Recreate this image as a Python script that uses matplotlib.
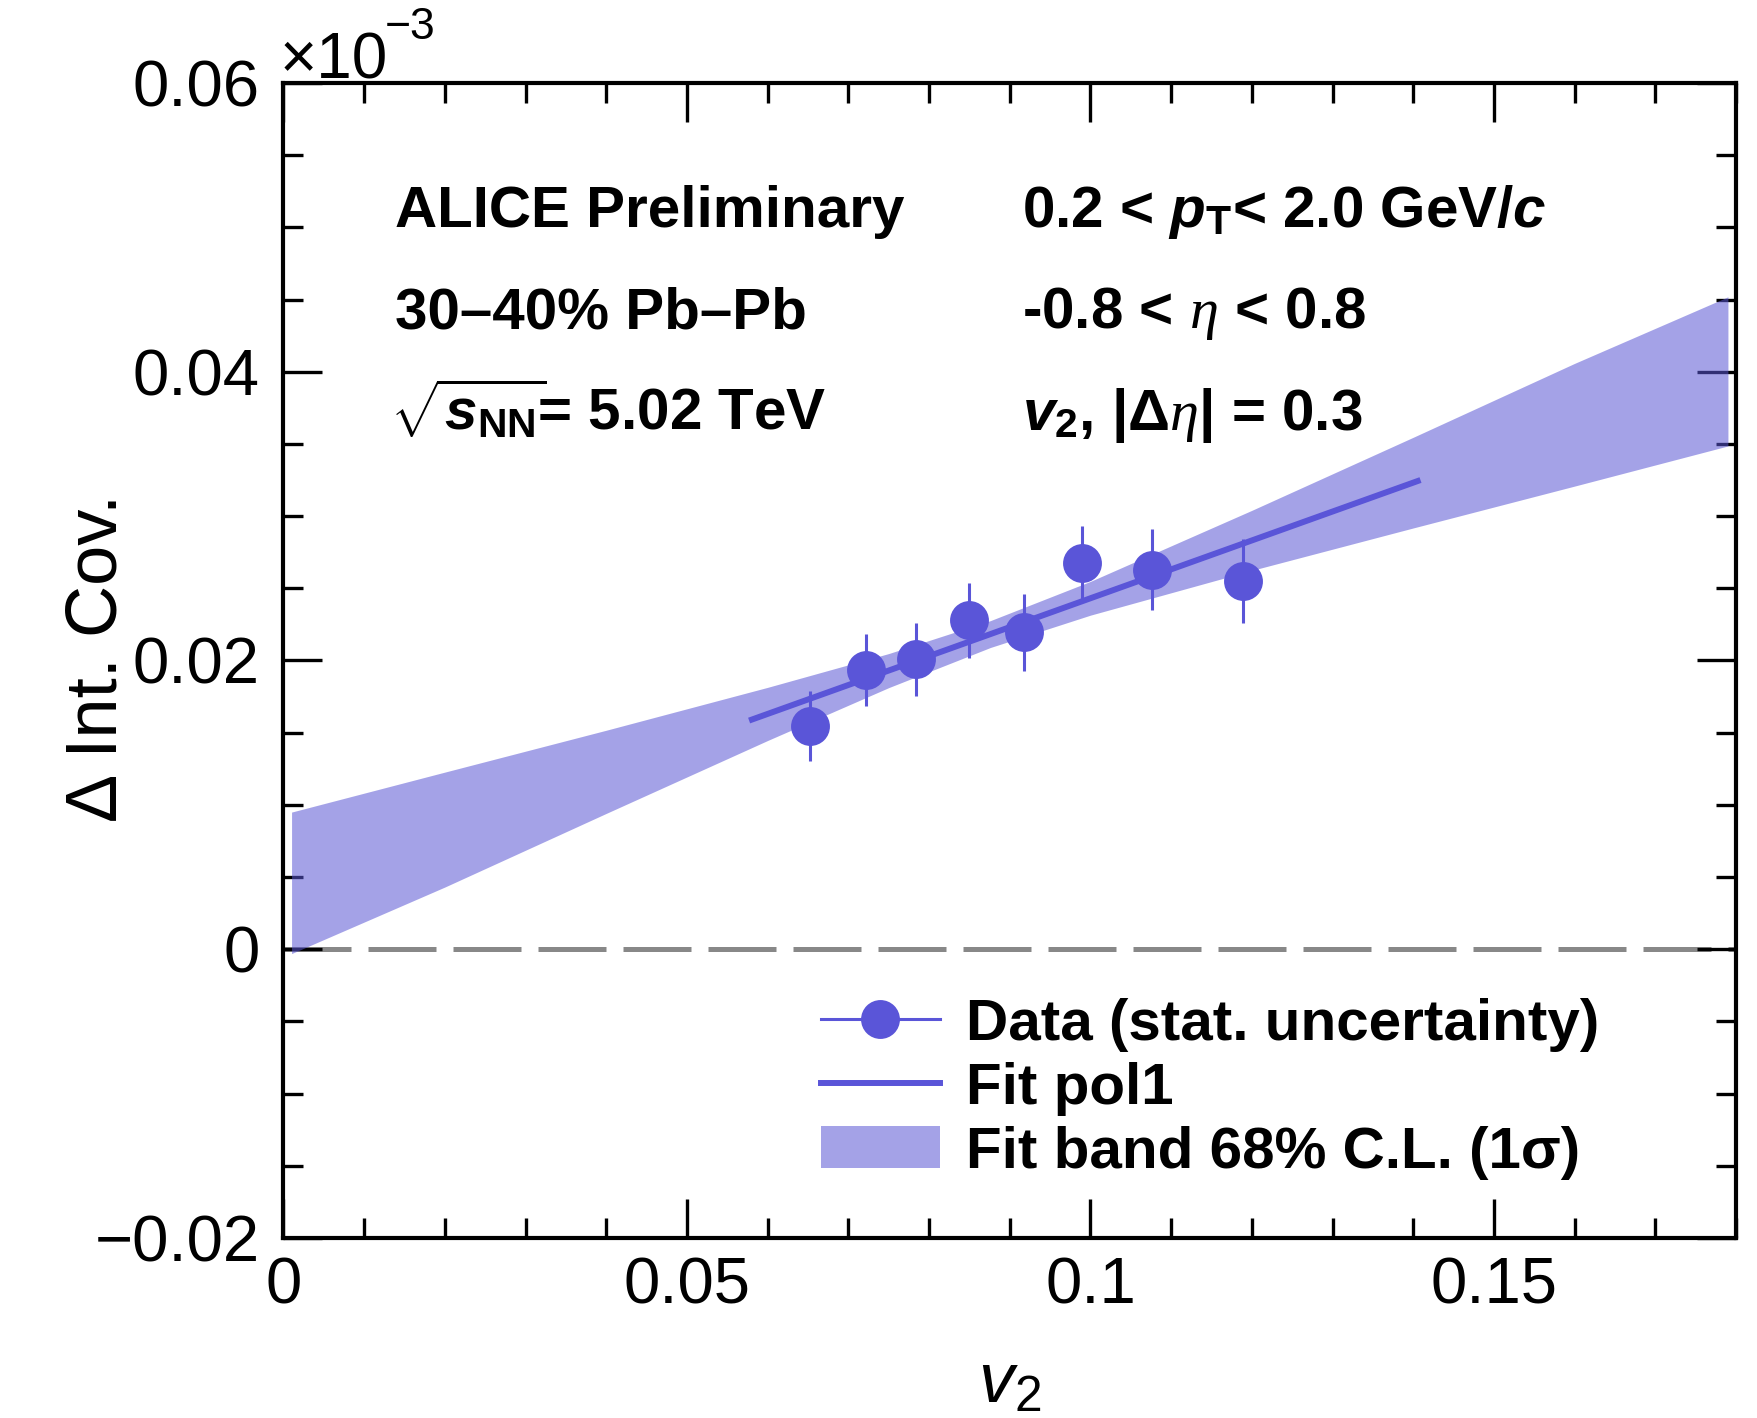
import matplotlib
matplotlib.use("Agg")
import matplotlib.pyplot as plt
from matplotlib.lines import Line2D
from matplotlib.patches import Patch
from matplotlib.ticker import FixedLocator, MultipleLocator

# ---------------- data ----------------
v2 = [0.0653, 0.0722, 0.0784, 0.0850, 0.0918, 0.0989, 0.1076, 0.1189]
cov = [0.01549, 0.01935, 0.02007, 0.02278, 0.02194, 0.02676, 0.02630, 0.02551]
cov_err = [0.00243, 0.00251, 0.00256, 0.00261, 0.00267, 0.00257, 0.00280, 0.00290]

fit_x = [0.0577, 0.1409]
fit_y = [0.01584, 0.03250]

band_x = [0.001, 0.02, 0.04, 0.06, 0.075, 0.0876, 0.10, 0.12, 0.14, 0.16, 0.179]
band_lo = [-0.0003, 0.00431, 0.00941, 0.01446, 0.01812, 0.02090, 0.02314, 0.02624, 0.02918, 0.03208, 0.03486]
band_hi = [0.0095, 0.01227, 0.01517, 0.01814, 0.02048, 0.02276, 0.02548, 0.03040, 0.03546, 0.04058, 0.04519]

xticks = [0, 0.05, 0.10, 0.15]
xticklabels = ["0", "0.05", "0.1", "0.15"]
yticks = [-0.02, 0, 0.02, 0.04, 0.06]
yticklabels = ["\u22120.02", "0", "0.02", "0.04", "0.06"]

label_data = "Data (stat. uncertainty)"
label_fit = "Fit pol1"
label_band = "Fit band 68% C.L. (1\u03c3)"

# ---------------- style ----------------
plt.rcParams['font.family'] = ['Liberation Sans', 'DejaVu Sans']
plt.rcParams['mathtext.fontset'] = 'custom'
plt.rcParams['mathtext.rm'] = 'Liberation Sans:bold'
plt.rcParams['mathtext.bf'] = 'Liberation Sans:bold:italic'
plt.rcParams['mathtext.it'] = 'Liberation Serif:italic'
plt.rcParams['mathtext.sf'] = 'Liberation Sans:italic'

col = '#5A55D8'
band_col = (90/255, 87/255, 213/255, 0.55)

fig = plt.figure(figsize=(17.58, 14.18), dpi=100)
ax = fig.add_axes([0.16126, 0.12694, 0.98749 - 0.16126, 0.94147 - 0.12694])

ax.fill_between(band_x, band_lo, band_hi, color=band_col, lw=0, zorder=2)
ax.axhline(0, color='#888888', lw=3.6, dashes=[13.6, 3.4], zorder=1)
ax.plot(fit_x, fit_y, color=col, lw=4.3, solid_capstyle='butt', zorder=3)
ax.errorbar(v2, cov, yerr=cov_err, fmt='o', color=col, ms=28, mew=0,
            elinewidth=2.2, capsize=0, zorder=4)

ax.set_xlim(0, 0.18)
ax.set_ylim(-0.02, 0.06)

ax.xaxis.set_major_locator(FixedLocator(xticks))
ax.set_xticklabels(xticklabels)
ax.xaxis.set_minor_locator(MultipleLocator(0.01))
ax.yaxis.set_major_locator(FixedLocator(yticks))
ax.set_yticklabels(yticklabels)
ax.yaxis.set_minor_locator(MultipleLocator(0.005))

ax.tick_params(which='both', direction='in', top=True, right=True, width=2.4,
               labelsize=47)
ax.tick_params(which='major', length=28)
ax.tick_params(which='minor', length=14.5)
ax.tick_params(axis='x', which='major', pad=13.3)
ax.tick_params(axis='y', which='major', pad=17)
for sp in ax.spines.values():
    sp.set_linewidth(3.0)

ax.set_ylabel("\u0394 Int. Cov.", fontsize=52, va='center')
ax.yaxis.set_label_coords(-0.128, 0.502)
ax.set_xlabel(r"$\mathsf{v}_{\mathregular{2}}$", fontsize=51, va='top')
ax.xaxis.set_label_coords(0.5, -0.098)

ax.text(-0.0024, 1.0043, "\u00d710", transform=ax.transAxes,
        fontsize=46, va='baseline', ha='left')
ax.text(0.0695, 1.038, "\u22123", transform=ax.transAxes,
        fontsize=32, va='baseline', ha='left')

tkw = dict(transform=ax.transAxes, fontsize=42, fontweight='bold', va='baseline', ha='left')
ax.text(0.0768, 0.8756, "ALICE Preliminary", **tkw)
ax.text(0.0768, 0.7876, "30\u201340% Pb\u2013Pb", **tkw)
ax.text(0.0730, 0.6996, r"$\sqrt{\mathbf{s}_{\mathrm{NN}}}\!$= 5.02 TeV", **tkw)
ax.text(0.5082, 0.8756, r"0.2 < $\mathbf{p}_{\mathrm{T}}$< 2.0 GeV/$\mathbf{c}$", **tkw)
ax.text(0.5082, 0.7876, r"-0.8 < $\eta$ < 0.8", **tkw)
ax.text(0.5082, 0.6996, r"$\mathbf{v}_{\mathrm{2}}$, |$\Delta\eta$| = 0.3", **tkw)

handles = [
    Line2D([], [], color=col, marker='o', ms=28, mew=0, lw=2.2),
    Line2D([], [], color=col, lw=4.3),
    Patch(facecolor=band_col, edgecolor='none'),
]
leg = ax.legend(handles, [label_data, label_fit, label_band],
                loc='upper left', bbox_to_anchor=(0.37, 0.208),
                frameon=False, borderpad=0, borderaxespad=0,
                handlelength=2.04, handletextpad=0.45, labelspacing=0.17,
                handleheight=0.72,
                prop={'family': 'Liberation Sans', 'weight': 'bold', 'size': 42})

fig.savefig("out.png", dpi=100)
